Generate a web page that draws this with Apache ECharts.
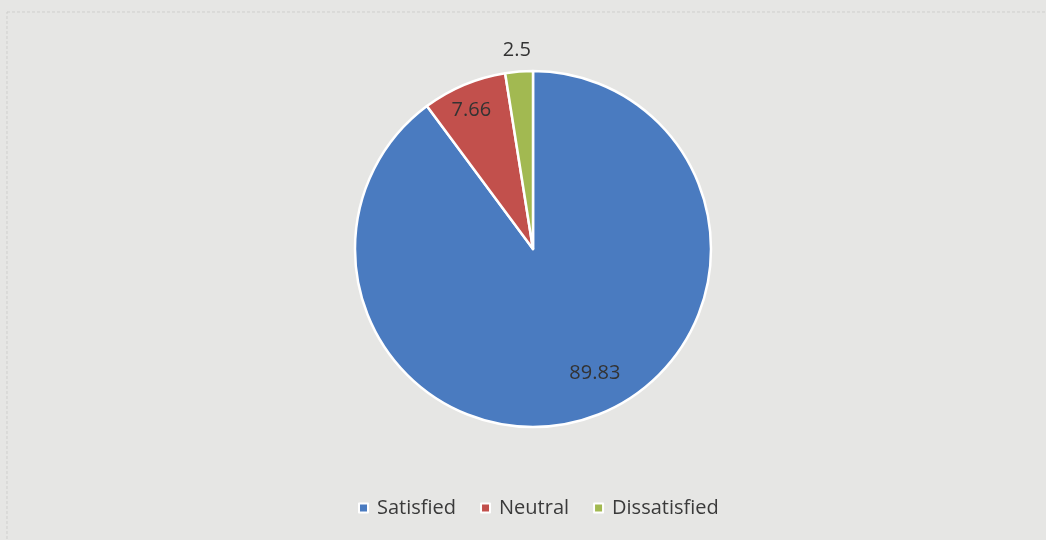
<!DOCTYPE html>
<html>
<head>
<meta charset="utf-8">
<script src="https://cdn.jsdelivr.net/npm/echarts@6/dist/echarts.min.js"></script>
<style>
  html, body { margin: 0; padding: 0; background: #e6e6e4; }
  #chart { width: 1046px; height: 540px; }
</style>
</head>
<body>
<div id="chart"></div>
<script>
// 数据
const categories = ["Satisfied", "Neutral", "Dissatisfied"];
const values = [89.83, 7.66, 2.5];
const colors = ["#4a7bc0", "#c2504c", "#a2b951"];
// 标签偏移（Excel best fit 的位置）
const labelOffsets = [[33, 37], [-26, -54], [-9, -107]];

let myChart = echarts.init(document.getElementById("chart"));
myChart.setOption({
  backgroundColor: "#e6e6e4",
  color: colors,
  legend: {
    bottom: 17,
    left: 353,
    icon: "rect",
    itemWidth: 9,
    itemHeight: 9,
    itemGap: 24,
    textStyle: { color: "#3a3a3a", fontSize: 20, fontFamily: "Open Sans", padding: [0, 0, 0, 4] },
    data: categories
  },
  graphic: [
    {
      type: "rect",
      shape: { x: 7, y: 12, width: 1046, height: 540 },
      style: { fill: "none", stroke: "#cfcfcd", lineWidth: 1, lineDash: [3, 2] },
      silent: true
    }
  ],
  series: [
    {
      name: "satisfaction",
      type: "pie",
      center: [533, 249],
      radius: ["0", 178],
      startAngle: 90,
      clockwise: true,
      animation: false,
      itemStyle: { borderColor: "#ffffff", borderWidth: 2.5 },
      labelLine: { show: false },
      data: categories.map((c, i) => ({
        name: c,
        value: values[i],
        label: {
          show: true,
          position: "inside",
          offset: labelOffsets[i],
          formatter: "{c}",
          color: "#333333",
          fontSize: 20,
          fontFamily: "Open Sans"
        }
      }))
    }
  ]
});
</script>
</body>
</html>
